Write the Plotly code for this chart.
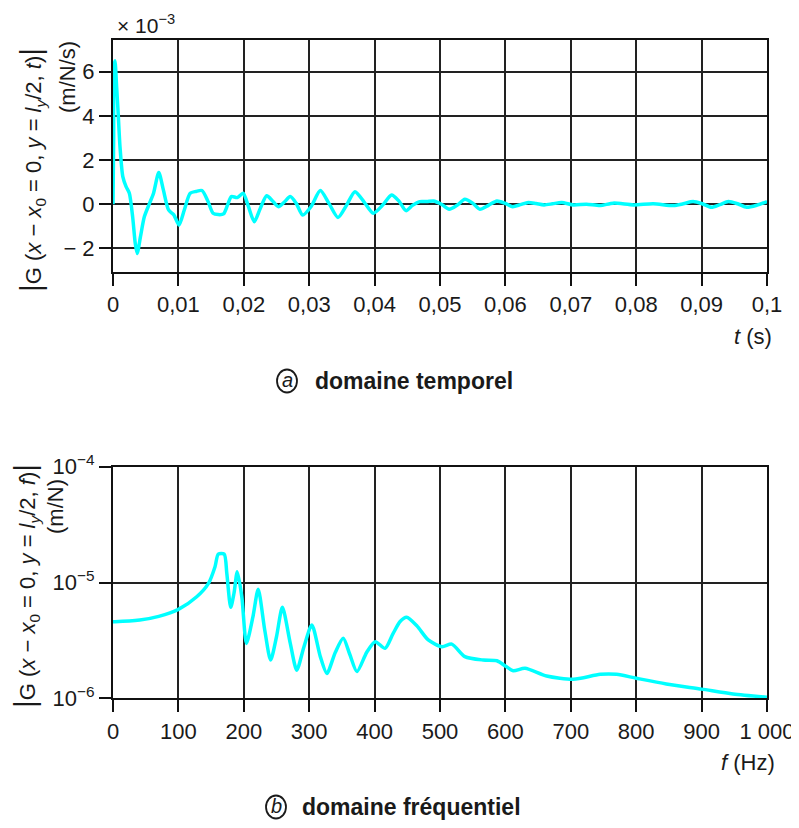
import plotly.graph_objects as go

# ---------------- data: (a) time domain ----------------
t_s = [0, 0.0001, 0.00015, 0.0003, 0.00056, 0.00081, 0.00107, 0.0015, 0.0020, 0.0025,
       0.0030, 0.0034, 0.0037, 0.0042, 0.0048, 0.0056, 0.0062, 0.0070, 0.0077, 0.0085,
       0.0093, 0.0101, 0.0109, 0.0118, 0.0127, 0.0136, 0.0145, 0.0153, 0.0161, 0.0169,
       0.0175, 0.0181, 0.0190, 0.0199, 0.0207, 0.0216, 0.0225, 0.0235, 0.0244, 0.0253,
       0.0262, 0.0271, 0.0280, 0.0290, 0.0303, 0.0317, 0.0330, 0.0344, 0.0357, 0.0370,
       0.0384, 0.0398, 0.0412, 0.0426, 0.0437, 0.0448, 0.0458, 0.0469, 0.0480, 0.0490,
       0.0502, 0.0514, 0.0526, 0.0538, 0.0550, 0.0561, 0.0574, 0.0587, 0.0599, 0.0611,
       0.0623, 0.0635, 0.0647, 0.0659, 0.0672, 0.0686, 0.0704, 0.0724, 0.0745, 0.0765,
       0.0796, 0.0826, 0.0857, 0.0872, 0.0887, 0.0901, 0.0915, 0.0928, 0.0941, 0.0955,
       0.0969, 0.0985, 0.1000]
g_t = [0.0, 3.0, 6.2, 6.5, 5.3, 4.0, 2.6, 1.25, 0.8, 0.5,
       -0.56, -1.77, -2.23, -1.47, -0.56, 0.05, 0.5, 1.44, 0.65, -0.26,
       -0.48, -0.94, -0.26, 0.5, 0.58, 0.62, 0.15, -0.41, -0.47, -0.44,
       -0.05, 0.35, 0.3, 0.5, -0.1, -0.79, -0.2, 0.38, 0.15, -0.11,
       0.1, 0.35, 0.05, -0.49, -0.1, 0.62, 0.05, -0.6, -0.05, 0.57,
       0.1, -0.41, -0.05, 0.42, 0.15, -0.29, -0.05, 0.12, 0.12, 0.15,
       0.0, -0.23, -0.05, 0.23, 0.05, -0.23, -0.05, 0.15, 0.05, -0.11,
       -0.02, 0.08, 0.03, -0.03, 0.02, 0.08, -0.03, 0.0, -0.06, 0.05,
       -0.03, 0.02, -0.06, 0.02, 0.12, 0.02, -0.14, -0.02, 0.12, 0.02,
       -0.14, -0.04, 0.12]

t_ticks = [0, 0.01, 0.02, 0.03, 0.04, 0.05, 0.06, 0.07, 0.08, 0.09, 0.1]
t_tick_labels = ["0", "0,01", "0,02", "0,03", "0,04", "0,05", "0,06", "0,07", "0,08", "0,09", "0,1"]
g_t_ticks = [-2, 0, 2, 4, 6]
g_t_tick_labels = ["− 2", "0", "2", "4", "6"]

# ---------------- data: (b) frequency domain ----------------
f_hz = [0, 3, 41, 70, 100, 128, 146, 156, 161, 170, 174, 180, 185, 190, 197, 204,
        214, 222, 232, 241, 250, 259, 271, 281, 292, 304, 317, 327, 340, 352, 362,
        373, 388, 401, 416, 428, 439, 449, 465, 482, 503, 518, 538, 566, 587, 600,
        612, 630, 663, 704, 745, 770, 800, 846, 900, 948, 1000]
g_f = [4.59e-6, 4.59e-6, 4.74e-6, 5.1e-6, 5.86e-6, 7.53e-6, 9.84e-6, 1.37e-5, 1.76e-5, 1.76e-5,
       1.2e-5, 6.1e-6, 8.07e-6, 1.24e-5, 7.5e-6, 2.98e-6,
       5.07e-6, 8.73e-6, 3.89e-6, 2.14e-6, 3.4e-6, 6.1e-6, 3.0e-6, 1.75e-6, 2.79e-6, 4.3e-6,
       2.29e-6, 1.64e-6, 2.5e-6, 3.3e-6, 2.4e-6,
       1.7e-6, 2.5e-6, 3.08e-6, 2.7e-6, 3.6e-6, 4.6e-6, 5.0e-6, 4.2e-6, 3.19e-6, 2.79e-6,
       2.94e-6, 2.29e-6, 2.14e-6, 2.11e-6, 1.9e-6,
       1.73e-6, 1.82e-6, 1.56e-6, 1.46e-6, 1.61e-6, 1.61e-6, 1.49e-6, 1.33e-6, 1.2e-6,
       1.09e-6, 1.02e-6]

f_ticks = [0, 100, 200, 300, 400, 500, 600, 700, 800, 900, 1000]
f_tick_labels = ["0", "100", "200", "300", "400", "500", "600", "700", "800", "900", "1 000"]
g_f_ticks = [1e-6, 1e-5, 1e-4]
g_f_tick_labels = ["10<sup>−6</sup>", "10<sup>−5</sup>", "10<sup>−4</sup>"]

# ---------------- figure ----------------
OFF = 8                      # default page body margin
W, H = 799 - OFF, 828 - OFF
FONT = "Liberation Sans, Arial, Helvetica, sans-serif"
TXT = "#1a1a1a"
CYAN = "#00FFFF"


def px(x):
    return (x - OFF) / W


def py(y):
    return 1 - (y - OFF) / H


fig = go.Figure()
fig.add_trace(go.Scatter(x=t_s, y=g_t, mode="lines", xaxis="x", yaxis="y",
                         line=dict(color=CYAN, width=3.5, shape="spline", smoothing=0.7),
                         hoverinfo="skip", showlegend=False))
fig.add_trace(go.Scatter(x=f_hz, y=g_f, mode="lines", xaxis="x2", yaxis="y2",
                         line=dict(color=CYAN, width=3.5, shape="spline", smoothing=0.7),
                         hoverinfo="skip", showlegend=False))

axis_common = dict(showline=True, mirror=True, linecolor="#111", linewidth=2,
                   showgrid=True, gridcolor="#222", gridwidth=1.6,
                   ticks="outside", ticklen=12, tickwidth=1.6, tickcolor="#111",
                   zeroline=False, automargin=False, ticklabeloverflow="allow",
                   tickfont=dict(family=FONT, size=22, color=TXT))

fig.update_layout(
    width=W, height=H,
    margin=dict(l=0, r=0, t=0, b=0),
    paper_bgcolor="white", plot_bgcolor="white",
    font=dict(family=FONT, size=22, color=TXT),
    xaxis=dict(domain=[px(113), px(767)], anchor="y", range=[0, 0.1],
               tickmode="array", tickvals=t_ticks, ticktext=t_tick_labels, **axis_common),
    yaxis=dict(domain=[py(272), py(40)], anchor="x", range=[-3.07, 7.44],
               tickmode="array", tickvals=g_t_ticks, ticktext=g_t_tick_labels, **axis_common),
    xaxis2=dict(domain=[px(113), px(767)], anchor="y2", range=[0, 1000],
                tickmode="array", tickvals=f_ticks, ticktext=f_tick_labels, **axis_common),
    yaxis2=dict(domain=[py(698.3), py(466.7)], anchor="x2", type="log", range=[-6, -4],
                tickmode="array", tickvals=g_f_ticks, ticktext=g_f_tick_labels, **axis_common),
)

BAR = "<span style='font-size:30px'>|</span>"
ann = []


def add_text(text, x, y, xanchor="center", yanchor="middle", angle=0, size=22):
    ann.append(dict(text=text, x=px(x), y=py(y), xref="paper", yref="paper",
                    xanchor=xanchor, yanchor=yanchor, textangle=angle, showarrow=False,
                    font=dict(family=FONT, size=size, color=TXT)))


# multiplier
add_text("× 10<sup>−3</sup>", 115, 24, xanchor="left", size=21)
# y titles
add_text(BAR + "G (<i>x</i> − <i>x</i><sub>0</sub> = 0, <i>y</i> = <i>l</i><sub><i>y</i></sub>/2, <i>t</i>)" + BAR,
         32, 170, angle=-90)
add_text("(m/N/s)", 68, 77, angle=-90)
add_text(BAR + "G (<i>x</i> − <i>x</i><sub>0</sub> = 0, <i>y</i> = <i>l</i><sub><i>y</i></sub>/2, <i>f</i>)" + BAR,
         25, 586, angle=-90)
add_text("(m/N)", 55, 507, angle=-90)
# x titles
add_text("<i>t</i> (s)", 774, 336, xanchor="right")
add_text("<i>f</i> (Hz)", 777, 762, xanchor="right")
# captions
add_text("<i>a</i>", 287, 380, size=20)
add_text("<b>domaine temporel</b>", 313, 381, xanchor="left", size=23)
add_text("<i>b</i>", 276, 806, size=20)
add_text("<b>domaine fréquentiel</b>", 300, 807, xanchor="left", size=23)

fig.update_layout(annotations=ann)

shapes = []
for cx, cy in [(287, 381), (276, 807)]:
    shapes.append(dict(type="circle", xref="paper", yref="paper",
                       x0=px(cx - 10), x1=px(cx + 10), y0=py(cy + 11.5), y1=py(cy - 11.5),
                       line=dict(color=TXT, width=1.8)))
fig.update_layout(shapes=shapes)

fig.write_html("out.html")
